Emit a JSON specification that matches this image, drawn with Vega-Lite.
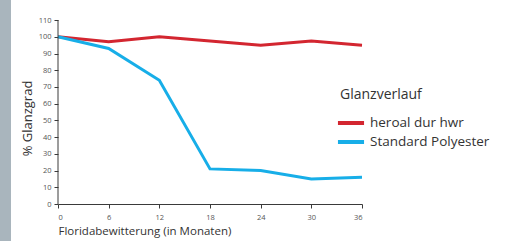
{
  "$schema": "https://vega.github.io/schema/vega-lite/v6.json",
  "padding": 0,
  "background": "white",
  "bounds": "flush",
  "spacing": 47,
  "config": {"view": {"stroke": null}, "font": "Open Sans"},
  "hconcat": [
    {
      "width": 11,
      "height": 241,
      "view": {"fill": "#a9b5bd", "stroke": null},
      "data": {"values": []},
      "mark": "rect"
    },
    {
      "width": 304,
      "height": 204,
      "data": {"values": [
        {"monat": 0, "wert": 100, "serie": "heroal dur hwr"},
        {"monat": 6, "wert": 97, "serie": "heroal dur hwr"},
        {"monat": 12, "wert": 100, "serie": "heroal dur hwr"},
        {"monat": 18, "wert": 97.5, "serie": "heroal dur hwr"},
        {"monat": 24, "wert": 95, "serie": "heroal dur hwr"},
        {"monat": 30, "wert": 97.5, "serie": "heroal dur hwr"},
        {"monat": 36, "wert": 95, "serie": "heroal dur hwr"},
        {"monat": 0, "wert": 100, "serie": "Standard Polyester"},
        {"monat": 6, "wert": 93, "serie": "Standard Polyester"},
        {"monat": 12, "wert": 74, "serie": "Standard Polyester"},
        {"monat": 18, "wert": 21, "serie": "Standard Polyester"},
        {"monat": 24, "wert": 20, "serie": "Standard Polyester"},
        {"monat": 30, "wert": 15, "serie": "Standard Polyester"},
        {"monat": 36, "wert": 16, "serie": "Standard Polyester"}
      ]},
      "layer": [
        {
          "mark": {"type": "line", "strokeWidth": 3},
          "encoding": {
            "x": {
              "field": "monat", "type": "quantitative",
              "scale": {"domain": [0, 36], "nice": false},
              "axis": {
                "values": [0, 6, 12, 18, 24, 30, 36],
                "title": "Floridabewitterung (in Monaten)",
                "titleAnchor": "start", "titleAlign": "left",
                "titleFont": "Open Sans", "titleFontSize": 11.5, "titleFontWeight": "normal", "titleColor": "#333333",
                "titlePadding": 5,
                "labelFontSize": 7.5, "labelColor": "#555555", "labelPadding": 5,
                "domainColor": "#3a3a3a", "tickColor": "#3a3a3a", "tickSize": 4, "grid": false
              }
            },
            "y": {
              "field": "wert", "type": "quantitative",
              "scale": {"domain": [0, 122], "nice": false},
              "axis": {
                "values": [0, 10, 20, 30, 40, 50, 60, 70, 80, 90, 100, 110],
                "labelOverlap": false,
                "title": "% Glanzgrad",
                "titleFont": "Open Sans", "titleFontSize": 13, "titleFontWeight": "normal", "titleColor": "#333333",
                "titleX": -24, "titleY": 118,
                "domain": false,
                "labelFontSize": 7.5, "labelColor": "#555555", "labelPadding": 3,
                "tickColor": "#3a3a3a", "tickSize": 4, "grid": false
              }
            },
            "color": {
              "field": "serie", "type": "nominal",
              "scale": {"domain": ["heroal dur hwr", "Standard Polyester"], "range": ["#d32630", "#17aee8"]},
              "legend": {
                "title": "Glanzverlauf",
                "orient": "none", "legendX": 340, "legendY": 88,
                "titleFontSize": 14, "titleFontWeight": "normal", "titleColor": "#333333", "titlePadding": 10,
                "labelFontSize": 13.5, "labelColor": "#333333", "labelOffset": 8,
                "symbolType": "M-1.45,0H1.45", "symbolStrokeWidth": 4, "symbolSize": 324,
                "symbolFillColor": null,
                "rowPadding": 0
              }
            }
          }
        },
        {
          "data": {"values": [{"monat": 0, "von": 0, "bis": 110}]},
          "mark": {"type": "rule", "color": "#3a3a3a", "strokeWidth": 1},
          "encoding": {
            "x": {
              "field": "monat", "type": "quantitative",
              "axis": {
                "values": [0, 6, 12, 18, 24, 30, 36],
                "title": "Floridabewitterung (in Monaten)",
                "titleAnchor": "start", "titleAlign": "left",
                "titleFont": "Open Sans", "titleFontSize": 11.5, "titleFontWeight": "normal", "titleColor": "#333333",
                "titlePadding": 5,
                "labelFontSize": 7.5, "labelColor": "#555555", "labelPadding": 5,
                "domainColor": "#3a3a3a", "tickColor": "#3a3a3a", "tickSize": 4, "grid": false
              }
            },
            "y": {
              "field": "von", "type": "quantitative",
              "axis": {
                "values": [0, 10, 20, 30, 40, 50, 60, 70, 80, 90, 100, 110],
                "labelOverlap": false,
                "title": "% Glanzgrad",
                "titleFont": "Open Sans", "titleFontSize": 13, "titleFontWeight": "normal", "titleColor": "#333333",
                "titleX": -24, "titleY": 118,
                "domain": false,
                "labelFontSize": 7.5, "labelColor": "#555555", "labelPadding": 3,
                "tickColor": "#3a3a3a", "tickSize": 4, "grid": false
              }
            },
            "y2": {"field": "bis"}
          }
        }
      ]
    }
  ]
}
